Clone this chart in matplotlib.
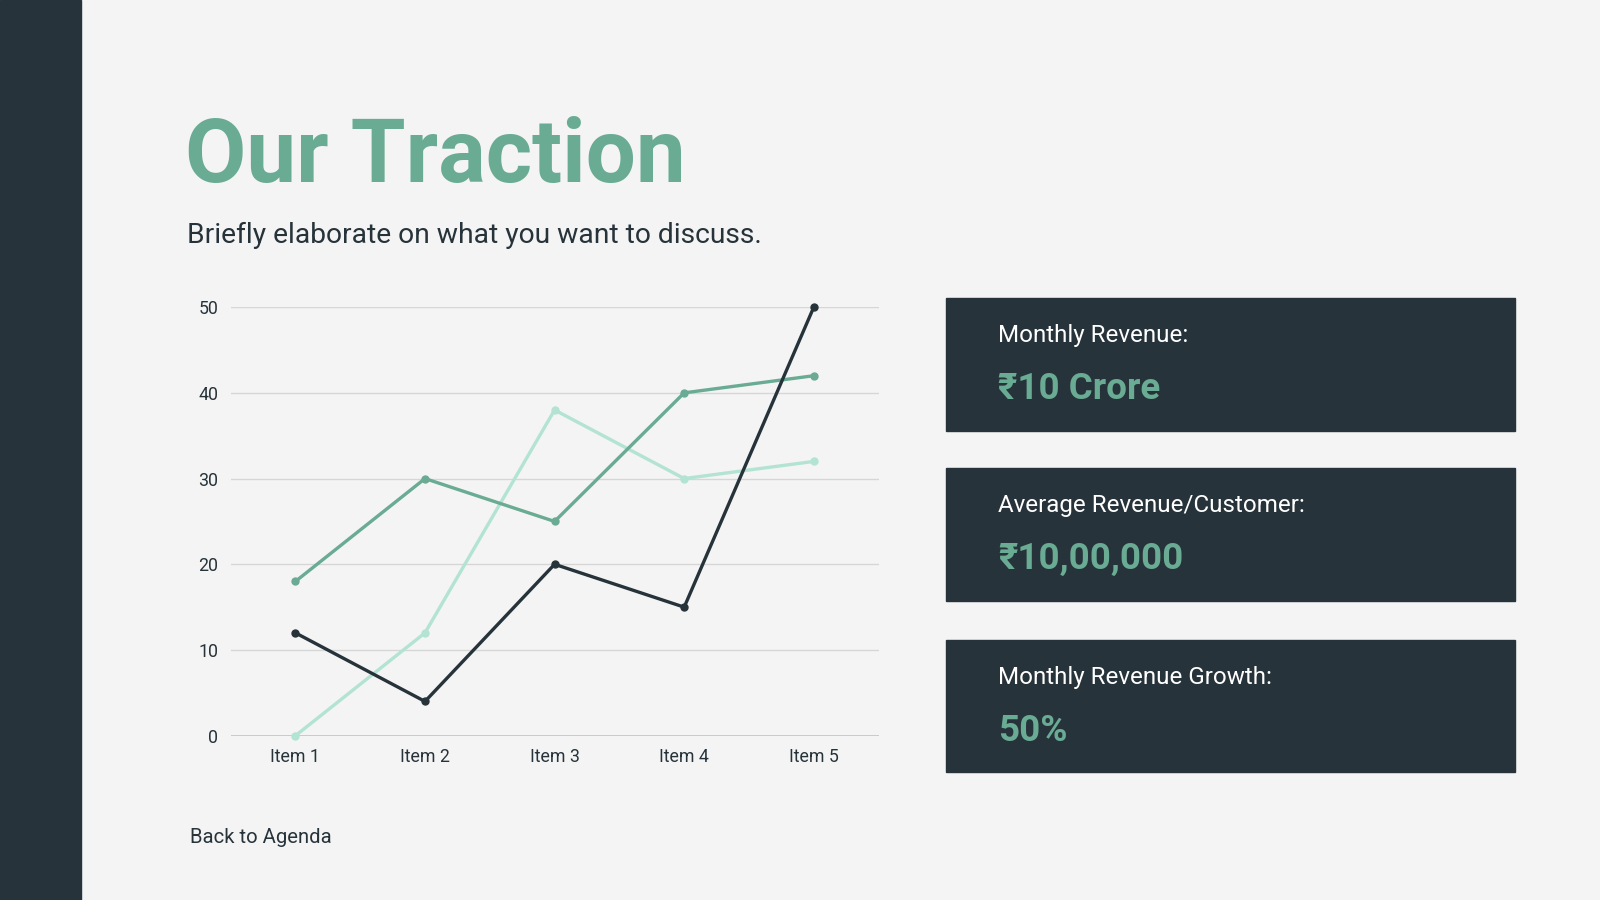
import matplotlib.pyplot as plt
from matplotlib.patches import Rectangle

# data
items = ['Item 1', 'Item 2', 'Item 3', 'Item 4', 'Item 5']
series_dark = [12, 4, 20, 15, 50]
series_green = [18, 30, 25, 40, 42]
series_light = [0, 12, 38, 30, 32]
yticks = [0, 10, 20, 30, 40, 50]

card_labels = ['Monthly Revenue:', 'Average Revenue/Customer:', 'Monthly Revenue Growth:']
card_values = ['₹10 Crore', '₹10,00,000', '50%']

BG = '#f4f4f4'
DARK = '#27333a'
GREEN = '#6aab94'
LIGHT = '#b3e3d3'
GRID = '#d6d6d6'
FONT = ['Roboto', 'DejaVu Sans']

# reference layout was measured on a 1568x882 picture
W, H = 1568.0, 882.0


def fx(x):
    return x / W


def fy(y):
    return 1 - y / H


fig = plt.figure(figsize=(16, 9), dpi=100, facecolor=BG)

# left dark strip
fig.patches.append(Rectangle((0, 0), fx(79), 1, transform=fig.transFigure,
                             color=DARK, zorder=0))

fig.text(fx(181), fy(178), 'Our Traction', fontsize=64, fontweight='bold',
         color=GREEN, family=FONT, va='baseline', ha='left')
fig.text(fx(183), fy(238), 'Briefly elaborate on what you want to discuss.',
         fontsize=20.3, color=DARK, family=FONT, va='baseline', ha='left')
fig.text(fx(186), fy(826), 'Back to Agenda', fontsize=14.6, color=DARK,
         family=FONT, va='baseline', ha='left')

# line chart
ax = fig.add_axes([fx(226), fy(721), fx(861) - fx(226), fy(301) - fy(721)])
ax.set_facecolor(BG)
x = range(len(items))
for vals, col in [(series_light, LIGHT), (series_green, GREEN), (series_dark, DARK)]:
    ax.plot(x, vals, color=col, lw=2.4, marker='o', ms=5, clip_on=False,
            solid_joinstyle='round', zorder=3)
ax.set_xlim(-0.5, len(items) - 0.5)
ax.set_ylim(0, 50)
ax.set_yticks(yticks)
ax.set_xticks(list(x))
ax.set_xticklabels(items)
ax.grid(axis='y', color=GRID, lw=1)
ax.axhline(0, color='#c4c4c4', lw=1.2, zorder=2)
ax.set_axisbelow(True)
for s in ax.spines.values():
    s.set_visible(False)
ax.tick_params(length=0, labelsize=12.8, labelcolor=DARK, pad=9)
for lab in ax.get_xticklabels() + ax.get_yticklabels():
    lab.set_family(FONT)

# stat cards
card_tops = [292, 459, 627]
for top, lab, val in zip(card_tops, card_labels, card_values):
    fig.patches.append(Rectangle((fx(927), fy(top + 130)), fx(1485) - fx(927),
                                 130 / H, transform=fig.transFigure,
                                 color=DARK, zorder=0))
    fig.text(fx(978), fy(top + 43), lab, fontsize=17.4, color='white',
             family=FONT, va='baseline', ha='left')
    fig.text(fx(978), fy(top + 99), val, fontsize=26.5, fontweight='bold',
             color=GREEN, family=FONT, va='baseline', ha='left')

fig.savefig('out.png', dpi=100, facecolor=BG)
